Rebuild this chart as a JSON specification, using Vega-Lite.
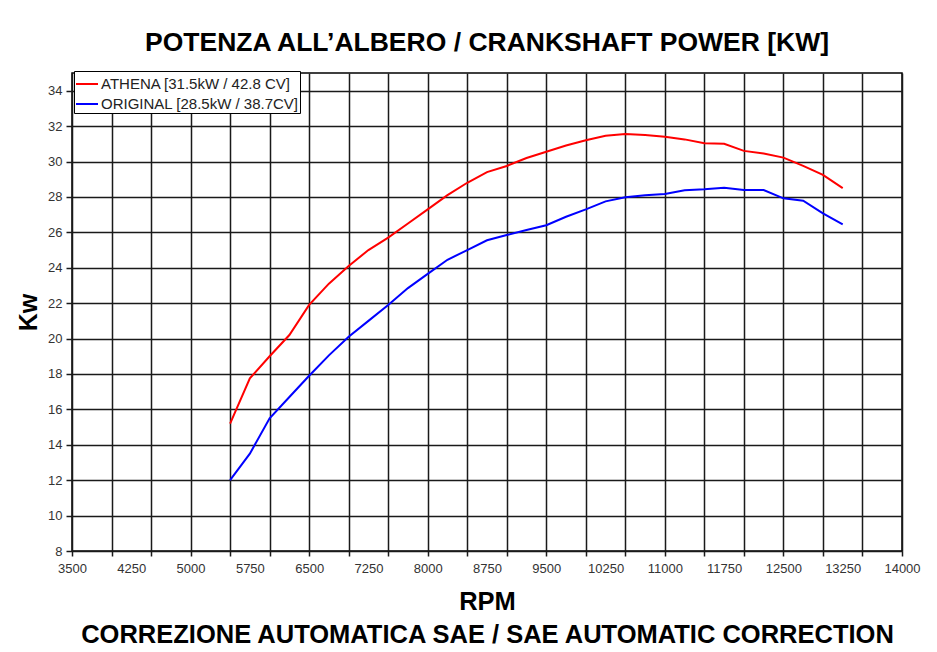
{
  "$schema": "https://vega.github.io/schema/vega-lite/v6.json",
  "width": 830,
  "height": 478,
  "autosize": {"type": "none"},
  "padding": {"left": 72, "top": 73, "right": 35, "bottom": 101},
  "background": "white",
  "config": {
    "view": {"stroke": "#000", "strokeWidth": 1.5},
    "font": "Liberation Sans"
  },
  "title": {
    "text": "POTENZA ALL’ALBERO / CRANKSHAFT POWER [KW]",
    "font": "Liberation Sans",
    "fontSize": 26.5,
    "fontWeight": "bold",
    "color": "#000",
    "anchor": "middle",
    "offset": 14
  },
  "data": {
    "values": [
      {"rpm": 5500, "kw": 15.2, "series": "ATHENA [31.5kW / 42.8 CV]"},
      {"rpm": 5750, "kw": 17.75, "series": "ATHENA [31.5kW / 42.8 CV]"},
      {"rpm": 6000, "kw": 19.0, "series": "ATHENA [31.5kW / 42.8 CV]"},
      {"rpm": 6250, "kw": 20.2, "series": "ATHENA [31.5kW / 42.8 CV]"},
      {"rpm": 6500, "kw": 21.9, "series": "ATHENA [31.5kW / 42.8 CV]"},
      {"rpm": 6750, "kw": 23.1, "series": "ATHENA [31.5kW / 42.8 CV]"},
      {"rpm": 7000, "kw": 24.1, "series": "ATHENA [31.5kW / 42.8 CV]"},
      {"rpm": 7250, "kw": 25.0, "series": "ATHENA [31.5kW / 42.8 CV]"},
      {"rpm": 7500, "kw": 25.7, "series": "ATHENA [31.5kW / 42.8 CV]"},
      {"rpm": 7750, "kw": 26.5, "series": "ATHENA [31.5kW / 42.8 CV]"},
      {"rpm": 8000, "kw": 27.3, "series": "ATHENA [31.5kW / 42.8 CV]"},
      {"rpm": 8250, "kw": 28.1, "series": "ATHENA [31.5kW / 42.8 CV]"},
      {"rpm": 8500, "kw": 28.8, "series": "ATHENA [31.5kW / 42.8 CV]"},
      {"rpm": 8750, "kw": 29.4, "series": "ATHENA [31.5kW / 42.8 CV]"},
      {"rpm": 9000, "kw": 29.75, "series": "ATHENA [31.5kW / 42.8 CV]"},
      {"rpm": 9250, "kw": 30.2, "series": "ATHENA [31.5kW / 42.8 CV]"},
      {"rpm": 9500, "kw": 30.55, "series": "ATHENA [31.5kW / 42.8 CV]"},
      {"rpm": 9750, "kw": 30.9, "series": "ATHENA [31.5kW / 42.8 CV]"},
      {"rpm": 10000, "kw": 31.2, "series": "ATHENA [31.5kW / 42.8 CV]"},
      {"rpm": 10250, "kw": 31.45, "series": "ATHENA [31.5kW / 42.8 CV]"},
      {"rpm": 10500, "kw": 31.55, "series": "ATHENA [31.5kW / 42.8 CV]"},
      {"rpm": 10750, "kw": 31.5, "series": "ATHENA [31.5kW / 42.8 CV]"},
      {"rpm": 11000, "kw": 31.4, "series": "ATHENA [31.5kW / 42.8 CV]"},
      {"rpm": 11250, "kw": 31.25, "series": "ATHENA [31.5kW / 42.8 CV]"},
      {"rpm": 11500, "kw": 31.03, "series": "ATHENA [31.5kW / 42.8 CV]"},
      {"rpm": 11750, "kw": 31.0, "series": "ATHENA [31.5kW / 42.8 CV]"},
      {"rpm": 12000, "kw": 30.6, "series": "ATHENA [31.5kW / 42.8 CV]"},
      {"rpm": 12250, "kw": 30.45, "series": "ATHENA [31.5kW / 42.8 CV]"},
      {"rpm": 12500, "kw": 30.22, "series": "ATHENA [31.5kW / 42.8 CV]"},
      {"rpm": 12750, "kw": 29.75, "series": "ATHENA [31.5kW / 42.8 CV]"},
      {"rpm": 13000, "kw": 29.25, "series": "ATHENA [31.5kW / 42.8 CV]"},
      {"rpm": 13250, "kw": 28.5, "series": "ATHENA [31.5kW / 42.8 CV]"},
      {"rpm": 5500, "kw": 12.0, "series": "ORIGINAL [28.5kW / 38.7CV]"},
      {"rpm": 5750, "kw": 13.5, "series": "ORIGINAL [28.5kW / 38.7CV]"},
      {"rpm": 6000, "kw": 15.5, "series": "ORIGINAL [28.5kW / 38.7CV]"},
      {"rpm": 6250, "kw": 16.7, "series": "ORIGINAL [28.5kW / 38.7CV]"},
      {"rpm": 6500, "kw": 17.9, "series": "ORIGINAL [28.5kW / 38.7CV]"},
      {"rpm": 6750, "kw": 19.05, "series": "ORIGINAL [28.5kW / 38.7CV]"},
      {"rpm": 7000, "kw": 20.1, "series": "ORIGINAL [28.5kW / 38.7CV]"},
      {"rpm": 7250, "kw": 21.0, "series": "ORIGINAL [28.5kW / 38.7CV]"},
      {"rpm": 7500, "kw": 21.9, "series": "ORIGINAL [28.5kW / 38.7CV]"},
      {"rpm": 7750, "kw": 22.85, "series": "ORIGINAL [28.5kW / 38.7CV]"},
      {"rpm": 8000, "kw": 23.65, "series": "ORIGINAL [28.5kW / 38.7CV]"},
      {"rpm": 8250, "kw": 24.45, "series": "ORIGINAL [28.5kW / 38.7CV]"},
      {"rpm": 8500, "kw": 25.0, "series": "ORIGINAL [28.5kW / 38.7CV]"},
      {"rpm": 8750, "kw": 25.55, "series": "ORIGINAL [28.5kW / 38.7CV]"},
      {"rpm": 9000, "kw": 25.85, "series": "ORIGINAL [28.5kW / 38.7CV]"},
      {"rpm": 9250, "kw": 26.13, "series": "ORIGINAL [28.5kW / 38.7CV]"},
      {"rpm": 9500, "kw": 26.4, "series": "ORIGINAL [28.5kW / 38.7CV]"},
      {"rpm": 9750, "kw": 26.88, "series": "ORIGINAL [28.5kW / 38.7CV]"},
      {"rpm": 10000, "kw": 27.3, "series": "ORIGINAL [28.5kW / 38.7CV]"},
      {"rpm": 10250, "kw": 27.75, "series": "ORIGINAL [28.5kW / 38.7CV]"},
      {"rpm": 10500, "kw": 27.98, "series": "ORIGINAL [28.5kW / 38.7CV]"},
      {"rpm": 10750, "kw": 28.1, "series": "ORIGINAL [28.5kW / 38.7CV]"},
      {"rpm": 11000, "kw": 28.16, "series": "ORIGINAL [28.5kW / 38.7CV]"},
      {"rpm": 11250, "kw": 28.38, "series": "ORIGINAL [28.5kW / 38.7CV]"},
      {"rpm": 11500, "kw": 28.43, "series": "ORIGINAL [28.5kW / 38.7CV]"},
      {"rpm": 11750, "kw": 28.52, "series": "ORIGINAL [28.5kW / 38.7CV]"},
      {"rpm": 12000, "kw": 28.39, "series": "ORIGINAL [28.5kW / 38.7CV]"},
      {"rpm": 12250, "kw": 28.39, "series": "ORIGINAL [28.5kW / 38.7CV]"},
      {"rpm": 12500, "kw": 27.92, "series": "ORIGINAL [28.5kW / 38.7CV]"},
      {"rpm": 12750, "kw": 27.79, "series": "ORIGINAL [28.5kW / 38.7CV]"},
      {"rpm": 13000, "kw": 27.07, "series": "ORIGINAL [28.5kW / 38.7CV]"},
      {"rpm": 13250, "kw": 26.45, "series": "ORIGINAL [28.5kW / 38.7CV]"}
    ]
  },
  "mark": {"type": "line", "strokeWidth": 2},
  "encoding": {
    "x": {
      "field": "rpm",
      "type": "quantitative",
      "scale": {"domain": [3500, 14000], "nice": false, "zero": false},
      "axis": {
        "values": [3500, 3750, 4000, 4250, 4500, 4750, 5000, 5250, 5500, 5750, 6000, 6250, 6500, 6750, 7000, 7250, 7500, 7750, 8000, 8250, 8500, 8750, 9000, 9250, 9500, 9750, 10000, 10250, 10500, 10750, 11000, 11250, 11500, 11750, 12000, 12250, 12500, 12750, 13000, 13250, 13500, 13750, 14000],
        "labelExpr": "(datum.value - 3500) % 750 === 0 ? '' + datum.value : ''",
        "labelOverlap": false,
        "labelFlush": false,
        "labelFont": "Liberation Sans",
        "labelFontSize": 13,
        "labelColor": "#333",
        "labelPadding": 6,
        "grid": true,
        "gridColor": "#1a1a1a",
        "gridWidth": 1.5,
        "gridOpacity": {"condition": {"test": "(datum.value - 3500) % 500 === 0", "value": 1}, "value": 0},
        "ticks": true,
        "tickSize": 5,
        "tickColor": "#1a1a1a",
        "tickWidth": 1.5,
        "tickOpacity": {"condition": {"test": "(datum.value - 3500) % 500 === 0", "value": 1}, "value": 0},
        "domain": false,
        "title": ["RPM", "CORREZIONE AUTOMATICA SAE / SAE AUTOMATIC CORRECTION"],
        "titleFont": "Liberation Sans",
        "titleFontSize": 25.5,
        "titleFontWeight": "bold",
        "titleColor": "#000",
        "titleLineHeight": 33,
        "titlePadding": 14
      }
    },
    "y": {
      "field": "kw",
      "type": "quantitative",
      "scale": {"domain": [8, 35], "nice": false, "zero": false},
      "axis": {
        "values": [8, 10, 12, 14, 16, 18, 20, 22, 24, 26, 28, 30, 32, 34],
        "labelFont": "Liberation Sans",
        "labelFontSize": 13,
        "labelColor": "#333",
        "labelPadding": 4,
        "grid": true,
        "gridColor": "#1a1a1a",
        "gridWidth": 1.5,
        "tickSize": 6,
        "tickColor": "#1a1a1a",
        "tickWidth": 1.5,
        "domain": false,
        "title": "Kw",
        "titleFont": "Liberation Sans",
        "titleFontSize": 25,
        "titleFontWeight": "bold",
        "titleColor": "#000",
        "titlePadding": 6
      }
    },
    "color": {
      "field": "series",
      "type": "nominal",
      "scale": {"domain": ["ATHENA [31.5kW / 42.8 CV]", "ORIGINAL [28.5kW / 38.7CV]"], "range": ["#ff0000", "#0000ff"]},
      "legend": {
        "title": null,
        "orient": "none",
        "legendX": 2,
        "legendY": -2,
        "fillColor": "#fff",
        "strokeColor": "#000",
        "padding": 1,
        "symbolType": "stroke",
        "symbolSize": 484,
        "symbolStrokeWidth": 2,
        "labelFont": "Liberation Sans",
        "labelFontSize": 15,
        "labelColor": "#222",
        "labelOffset": 2,
        "rowPadding": 0,
        "labelLimit": 300
      }
    }
  }
}
